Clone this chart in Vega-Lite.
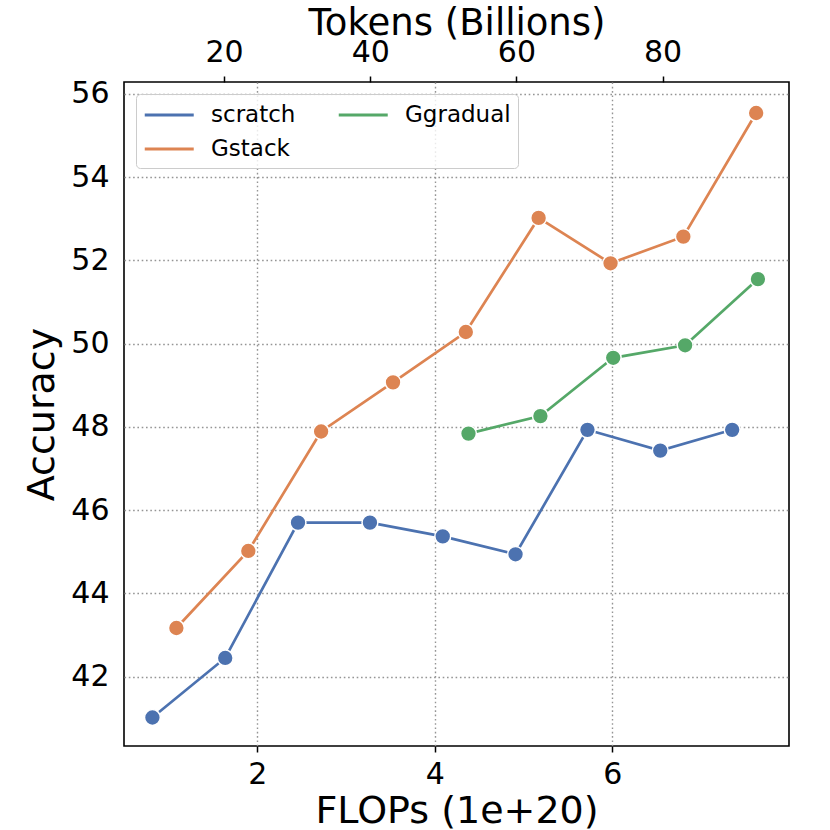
{
  "$schema": "https://vega.github.io/schema/vega-lite/v6.json",
  "width": 665,
  "height": 664,
  "autosize": {"type": "none"},
  "padding": {"left": 124, "top": 82, "right": 41, "bottom": 84},
  "background": "white",
  "config": {
    "font": "DejaVu Sans",
    "view": {"stroke": "black", "strokeWidth": 1.6},
    "axis": {
      "labelColor": "black",
      "titleColor": "black",
      "tickColor": "black",
      "labelFont": "DejaVu Sans",
      "titleFont": "DejaVu Sans",
      "titleFontWeight": "normal",
      "labelFontSize": 30,
      "titleFontSize": 38,
      "domain": false,
      "labelFlush": false,
      "labelOverlap": false,
      "labelBound": false,
      "gridColor": "#959595",
      "gridDash": [1.6, 2.7],
      "gridWidth": 1.4,
      "gridOpacity": 1
    },
    "legend": {
      "orient": "top-left",
      "offset": 12,
      "columns": 2,
      "symbolType": "M-1,0L3,0",
      "symbolSize": 600,
      "symbolStrokeWidth": 3,
      "labelFont": "DejaVu Sans",
      "labelFontSize": 23,
      "labelColor": "black",
      "padding": 7,
      "rowPadding": 8,
      "columnPadding": 36,
      "labelOffset": 40,
      "strokeColor": "#cccccc",
      "fillColor": "rgba(255,255,255,0.8)",
      "cornerRadius": 4
    }
  },
  "data": {
    "values": [
      {"method": "scratch", "flops": 0.82, "tokens": 10, "acc": 41.02},
      {"method": "scratch", "flops": 1.64, "tokens": 20, "acc": 42.45},
      {"method": "scratch", "flops": 2.46, "tokens": 30, "acc": 45.70},
      {"method": "scratch", "flops": 3.27, "tokens": 40, "acc": 45.70},
      {"method": "scratch", "flops": 4.09, "tokens": 50, "acc": 45.37},
      {"method": "scratch", "flops": 4.91, "tokens": 60, "acc": 44.94},
      {"method": "scratch", "flops": 5.72, "tokens": 70, "acc": 47.93},
      {"method": "scratch", "flops": 6.54, "tokens": 80, "acc": 47.43},
      {"method": "scratch", "flops": 7.35, "tokens": 90, "acc": 47.93},
      {"method": "Gstack", "flops": 1.09, "tokens": 10, "acc": 43.17},
      {"method": "Gstack", "flops": 1.90, "tokens": 20, "acc": 45.02},
      {"method": "Gstack", "flops": 2.72, "tokens": 30, "acc": 47.89},
      {"method": "Gstack", "flops": 3.53, "tokens": 40, "acc": 49.07},
      {"method": "Gstack", "flops": 4.35, "tokens": 50, "acc": 50.28},
      {"method": "Gstack", "flops": 5.17, "tokens": 60, "acc": 53.02},
      {"method": "Gstack", "flops": 5.98, "tokens": 70, "acc": 51.93},
      {"method": "Gstack", "flops": 6.80, "tokens": 80, "acc": 52.57},
      {"method": "Gstack", "flops": 7.62, "tokens": 90, "acc": 55.54},
      {"method": "Ggradual", "flops": 4.38, "tokens": 50, "acc": 47.84},
      {"method": "Ggradual", "flops": 5.19, "tokens": 60, "acc": 48.26},
      {"method": "Ggradual", "flops": 6.01, "tokens": 70, "acc": 49.66},
      {"method": "Ggradual", "flops": 6.82, "tokens": 80, "acc": 49.96},
      {"method": "Ggradual", "flops": 7.64, "tokens": 90, "acc": 51.55}
    ]
  },
  "layer": [
    {
      "encoding": {
        "x": {
          "field": "flops",
          "type": "quantitative",
          "scale": {"domain": [0.5, 7.99], "nice": false, "zero": false},
          "axis": {
            "orient": "bottom",
            "title": "FLOPs (1e+20)",
            "values": [2, 4, 6, 8],
            "grid": true,
            "ticks": true,
            "tickSize": 6,
            "tickWidth": 1.5,
            "labelPadding": 7,
            "titlePadding": 3
          }
        },
        "y": {
          "field": "acc",
          "type": "quantitative",
          "scale": {"domain": [40.335, 56.285], "nice": false, "zero": false},
          "axis": {
            "title": "Accuracy",
            "values": [42, 44, 46, 48, 50, 52, 54, 56],
            "grid": true,
            "ticks": false,
            "labelPadding": 15,
            "titlePadding": 9
          }
        },
        "color": {
          "field": "method",
          "type": "nominal",
          "scale": {
            "domain": ["scratch", "Gstack", "Ggradual"],
            "range": ["#4C72B0", "#DD8452", "#55A868"]
          },
          "legend": {"title": null}
        }
      },
      "layer": [
        {"mark": {"type": "line", "strokeWidth": 2.7}},
        {
          "mark": {"type": "point", "filled": true, "size": 250, "stroke": "white", "strokeWidth": 1.5, "opacity": 1},
          "encoding": {"color": {"field": "method", "type": "nominal", "legend": null}}
        }
      ]
    },
    {
      "mark": {"type": "point", "opacity": 0},
      "encoding": {
        "x": {
          "field": "tokens",
          "type": "quantitative",
          "scale": {"domain": [6.3, 97.3], "nice": false, "zero": false},
          "axis": {
            "orient": "top",
            "title": "Tokens (Billions)",
            "titleFontSize": 37,
            "values": [20, 40, 60, 80],
            "grid": false,
            "ticks": true,
            "tickSize": 6,
            "tickWidth": 1.5,
            "labelPadding": 9,
            "titlePadding": -5
          }
        },
        "y": {"field": "acc", "type": "quantitative"}
      }
    }
  ],
  "resolve": {"scale": {"x": "independent"}}
}
